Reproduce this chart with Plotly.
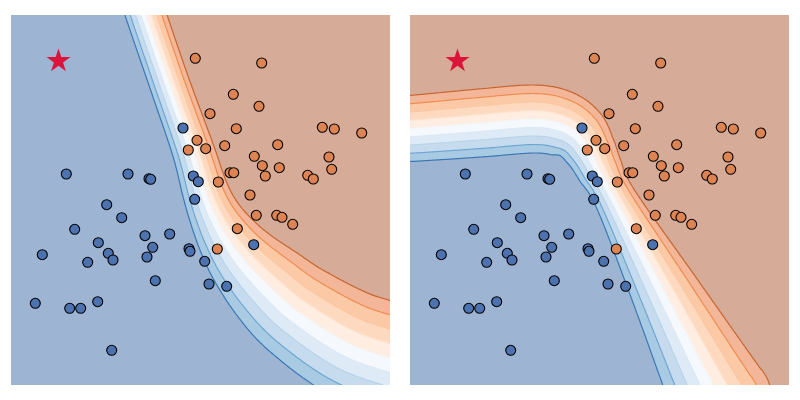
import numpy as np
import plotly.graph_objects as go

# ---------------- data (panel coordinates) ----------------
blue_x = [172, 55.3, 117, 138, 139.7, 182.3, 187.3, 183.7, 95.7, 110.7, 63.7, 134, 158.7, 87.3, 141.7, 178,
          179, 31.3, 97.3, 102, 136, 76.7, 193.7, 242.7, 144.3, 198, 215.7, 24.3, 58.7, 69.7, 86.7, 100.7]
blue_y = [257, 211, 211, 206.3, 205.7, 209, 203.3, 185.7, 180.3, 167.3, 155.7, 149.3, 151, 142.3, 137.7, 136.3,
          133.7, 130.3, 131.7, 125, 128, 122.7, 123.7, 140.3, 104.3, 101, 98.7, 81.7, 76.7, 76.7, 83.3, 34.7]
orange_x = [184.3, 250.7, 222.3, 248, 199, 225.3, 311.3, 323.3, 350.7, 186, 177.3, 194.7, 213.7, 266.7, 243.3, 318,
            251.3, 268.3, 320.7, 254.3, 296.7, 302.3, 219, 222.7, 207.3, 239, 245.3, 265.7, 271, 281.7, 226.3, 206.3]
orange_y = [326.7, 322, 290.7, 278.7, 271.3, 256.3, 257.7, 256, 252, 244.7, 235, 236.3, 239.3, 240.3, 228.7, 228,
            219.3, 217.3, 215.7, 209, 209.7, 206, 212.3, 212.3, 203, 190, 169.7, 169.7, 167.7, 160.7, 156.3, 136]
star_x = [47.5]
star_y = [324]

# decision boundary centre lines and band half-widths
left_bx = [129, 135, 159, 182, 194, 204, 217, 234, 259, 289, 339, 389, 420]
left_by = [390, 370, 300, 235, 195, 170, 147, 124, 98, 72, 41, 24, 15]
left_bw = [20, 20, 20, 21, 23, 26, 31, 37, 44, 49, 54, 56, 57]
right_bx = [-20, 0, 70, 123, 150, 168, 180, 190, 206, 255, 303, 312]
right_by = [256.5, 256.5, 262, 266, 262, 252, 235, 215, 185, 93, 1, -15]
right_bw = [33, 33, 34, 34, 33, 30, 26, 23, 21, 34, 48, 50]

levels_start, levels_end, levels_size = -0.8, 0.8, 0.2
band_colors = ["#9db4d3", "#a9cae3", "#c6dcee", "#deeaf5", "#f5f8fc",
               "#feede0", "#fddabf", "#fcc9a7", "#f3b699", "#d6ab97"]
line_colors = ["#3a78b5", "#6ea6d3", "#b7d4ea", "#dce9f4", "#f4f4f4",
               "#fde2cd", "#fbc7a2", "#f08c4e", "#c8662f"]

XMAX, YMAX = 379, 370


def catmull_rom(P, n=14):
    P = np.asarray(P, float)
    ext = np.vstack([2 * P[0] - P[1], P, 2 * P[-1] - P[-2]])
    out = []
    for i in range(1, len(ext) - 2):
        p0, p1, p2, p3 = ext[i - 1], ext[i], ext[i + 1], ext[i + 2]
        for t in np.linspace(0, 1, n, endpoint=False):
            t2, t3 = t * t, t * t * t
            out.append(0.5 * ((2 * p1) + (-p0 + p2) * t + (2 * p0 - 5 * p1 + 4 * p2 - p3) * t2
                              + (-p0 + 3 * p1 - 3 * p2 + p3) * t3))
    out.append(P[-1])
    return np.array(out)


def field(bx, by, bw, X, Y):
    P = catmull_rom(np.column_stack([bx, by, bw]))
    best = np.full(X.shape, np.inf)
    sgn = np.ones(X.shape)
    wid = np.ones(X.shape)
    for i in range(len(P) - 1):
        ax, ay, aw = P[i]
        cx, cy, cw = P[i + 1]
        dx, dy = cx - ax, cy - ay
        L2 = dx * dx + dy * dy
        if L2 == 0:
            continue
        t = np.clip(((X - ax) * dx + (Y - ay) * dy) / L2, 0, 1)
        qx, qy = ax + t * dx, ay + t * dy
        d2 = (X - qx) ** 2 + (Y - qy) ** 2
        m = d2 < best
        best = np.where(m, d2, best)
        cr = dx * (Y - ay) - dy * (X - ax)
        sgn = np.where(m, np.where(cr >= 0, 1.0, -1.0), sgn)
        wid = np.where(m, aw + t * (cw - aw), wid)
    return np.round(0.8 * sgn * np.sqrt(best) / wid, 3)


xs = np.linspace(0, XMAX, 200)
ys = np.linspace(0, YMAX, 196)
X, Y = np.meshgrid(xs, ys)
Z_left = field(left_bx, left_by, left_bw, X, Y)
Z_right = field(right_bx, right_by, right_bw, X, Y)

fill_cs = [[k / 9, c] for k, c in enumerate(band_colors)]
line_cs = [[k / 8, c] for k, c in enumerate(line_colors)]

fig = go.Figure()
for Z, xa, ya in [(Z_left, "x", "y"), (Z_right, "x2", "y2")]:
    fig.add_trace(go.Contour(x=xs, y=ys, z=Z, xaxis=xa, yaxis=ya, autocontour=False,
                             contours=dict(start=levels_start, end=levels_end, size=levels_size,
                                           coloring="fill", showlines=False),
                             colorscale=fill_cs, showscale=False, line=dict(width=0),
                             hoverinfo="skip"))
    fig.add_trace(go.Contour(x=xs, y=ys, z=Z, xaxis=xa, yaxis=ya, autocontour=False,
                             contours=dict(start=levels_start, end=levels_end, size=levels_size,
                                           coloring="lines"),
                             colorscale=line_cs, showscale=False, line=dict(width=1.2),
                             hoverinfo="skip"))
    fig.add_trace(go.Scatter(x=blue_x, y=blue_y, xaxis=xa, yaxis=ya, mode="markers",
                             marker=dict(size=10, color="#4c72b0", line=dict(color="black", width=1.1))))
    fig.add_trace(go.Scatter(x=orange_x, y=orange_y, xaxis=xa, yaxis=ya, mode="markers",
                             marker=dict(size=10, color="#dd8452", line=dict(color="black", width=1.1))))
    fig.add_trace(go.Scatter(x=star_x, y=star_y, xaxis=xa, yaxis=ya, mode="markers",
                             marker=dict(size=18, symbol="star", color="#dc143c", line=dict(width=0))))

ax_common = dict(visible=False, showgrid=False, zeroline=False, fixedrange=True)
fig.update_layout(
    width=800, height=400, showlegend=False,
    margin=dict(l=11, r=11, t=15, b=15),
    paper_bgcolor="white", plot_bgcolor="white",
    xaxis=dict(domain=[0, 379 / 778], range=[0, XMAX], **ax_common),
    yaxis=dict(domain=[0, 1], range=[0, YMAX], **ax_common),
    xaxis2=dict(domain=[399 / 778, 1], range=[0, XMAX], anchor="y2", **ax_common),
    yaxis2=dict(domain=[0, 1], range=[0, YMAX], anchor="x2", **ax_common),
)
fig.write_html("out.html", config={"displayModeBar": False},
               post_script="document.body.style.margin='0';document.body.style.overflow='hidden';")
